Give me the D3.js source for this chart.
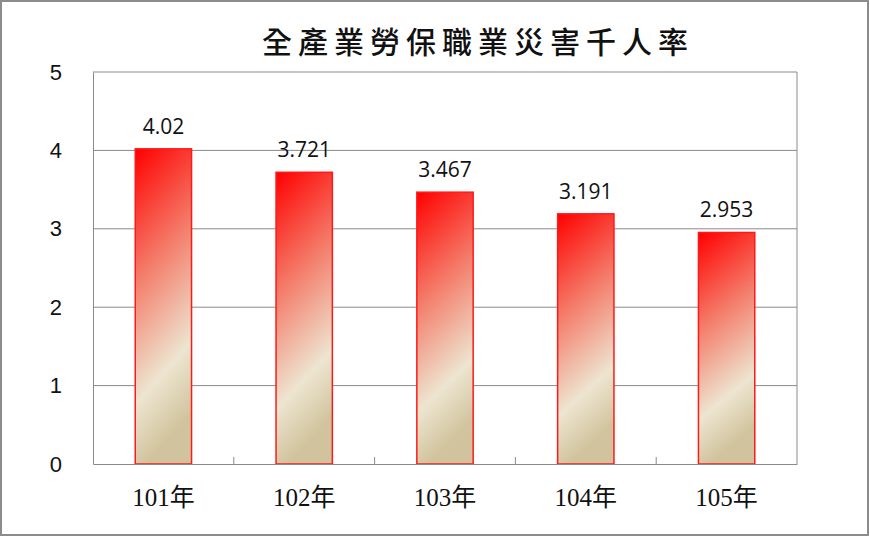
<!DOCTYPE html>
<html>
<head>
<meta charset="utf-8">
<script src="https://cdn.jsdelivr.net/npm/d3@7"></script>
<style>
body{margin:0;background:#fff;}
svg{display:block;}
</style>
</head>
<body>
<div id="plot"></div>
<script>
// data
var years = ['101年','102年','103年','104年','105年'];
var rates = [4.02, 3.721, 3.467, 3.191, 2.953];
var rateLabels = ['4.02','3.721','3.467','3.191','2.953'];
var yTicks = [0,1,2,3,4,5];

var W = 870, H = 537;
var m = {t:72, r:73, b:73, l:93};

var svg = d3.select('#plot').append('svg')
	.attr('width',W)
	.attr('height',H);

// outer frame
svg.append('rect')
	.attr('x',1).attr('y',1)
	.attr('width',W-3).attr('height',H-3)
	.style('fill','none')
	.style('stroke','#8c8c8c')
	.style('stroke-width',2);

var grad = svg.append('defs').append('linearGradient')
	.attr('id','barFill')
	.attr('x1',0).attr('y1',0).attr('x2',0.2).attr('y2',1);
grad.append('stop').attr('offset','0').attr('stop-color','#ff0000');
grad.append('stop').attr('offset','0.4').attr('stop-color','#f47a68');
grad.append('stop').attr('offset','0.78').attr('stop-color','#ede5d0');
grad.append('stop').attr('offset','1').attr('stop-color','#d1c39d');

var x = d3.scaleBand().domain(years).range([m.l, W-m.r]).paddingInner(0.6).paddingOuter(0.3);
var xb = d3.scaleBand().domain(years).range([m.l, W-m.r]);
var y = d3.scaleLinear().domain([0,5]).range([H-m.b, m.t]);

// gridlines
svg.append('g').selectAll('line')
	.data(yTicks.slice(1))
	.enter().append('line')
	.attr('x1',m.l).attr('x2',W-m.r)
	.attr('y1',function(d){return y(d);})
	.attr('y2',function(d){return y(d);})
	.style('stroke','#8a8a8a')
	.style('stroke-width',1);

// right border of plot
svg.append('line')
	.attr('x1',W-m.r).attr('x2',W-m.r)
	.attr('y1',m.t).attr('y2',H-m.b)
	.style('stroke','#8a8a8a');

// y axis
var yAxis = svg.append('g')
	.attr('transform','translate('+m.l+',0)')
	.call(d3.axisLeft(y).tickValues(yTicks).tickSize(0).tickPadding(31).tickFormat(d3.format('d')));
yAxis.select('.domain').style('stroke','#8a8a8a');
yAxis.selectAll('text')
	.style('font-family','"Liberation Sans", Arial, sans-serif')
	.style('font-size','22px')
	.style('fill','#111');

// bars
svg.append('g').selectAll('rect')
	.data(rates)
	.enter().append('rect')
	.attr('x',function(d,i){return x(years[i]);})
	.attr('y',function(d){return y(d);})
	.attr('width',x.bandwidth())
	.attr('height',function(d){return y(0)-y(d);})
	.style('fill','url(#barFill)')
	.style('stroke','#ff1a1a')
	.style('stroke-width',1.5);

// x axis
var xAxis = svg.append('g')
	.attr('transform','translate(0,'+(H-m.b)+')')
	.call(d3.axisBottom(xb).tickSize(0).tickPadding(24));
xAxis.select('.domain').style('stroke','#8a8a8a');
xAxis.selectAll('text')
	.style('font-family','"Liberation Serif", "Noto Sans CJK TC", serif')
	.style('font-size','25px')
	.style('fill','#111');

// category separators (ticks pointing up)
svg.append('g').selectAll('line')
	.data(years.slice(1))
	.enter().append('line')
	.attr('x1',function(d){return xb(d);})
	.attr('x2',function(d){return xb(d);})
	.attr('y1',y(0)-7).attr('y2',y(0))
	.style('stroke','#8a8a8a');

// value labels
svg.append('g').selectAll('text')
	.data(rates)
	.enter().append('text')
	.attr('x',function(d,i){return x(years[i])+x.bandwidth()/2;})
	.attr('y',function(d){return y(d)-15;})
	.attr('text-anchor','middle')
	.style('font-family','"Open Sans", "Liberation Sans", sans-serif')
	.style('font-size','21px')
	.style('fill','#111')
	.text(function(d,i){return rateLabels[i];});

// title
svg.append('text')
	.attr('x',478).attr('y',53)
	.attr('text-anchor','middle')
	.style('font-family','"Noto Sans CJK TC", sans-serif')
	.style('font-size','30px')
	.style('font-weight','500')
	.style('letter-spacing','6px')
	.style('fill','#111')
	.text('全產業勞保職業災害千人率');
</script>
</body>
</html>
